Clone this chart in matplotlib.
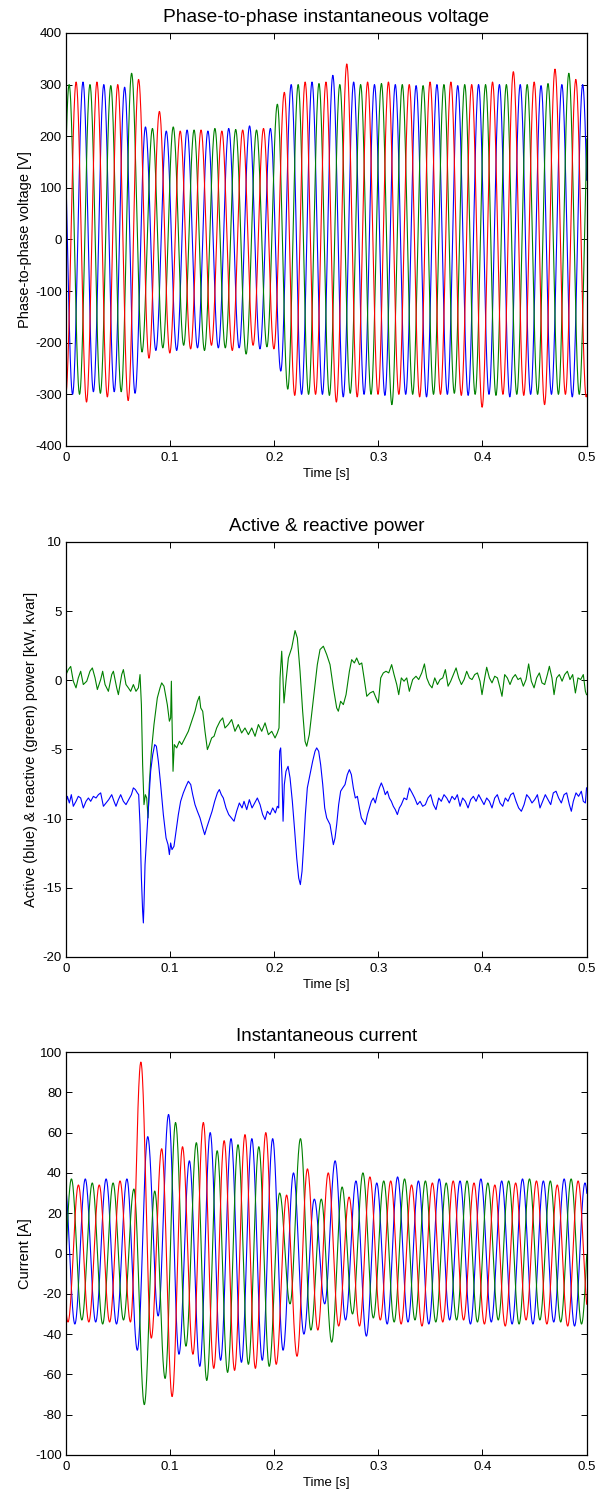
import numpy as np
import matplotlib
matplotlib.use("Agg")
import matplotlib.pyplot as plt

plt.rcParams['font.family'] = ['Liberation Sans', 'DejaVu Sans']
plt.rcParams['axes.unicode_minus'] = False

# ---------------- data ----------------
HALF_PERIOD = 0.01  # s, 50 Hz system

# Phase-to-phase voltage: successive half-cycle peak values [V]
V_GREEN_T0 = -0.007
V_GREEN_PEAKS = [-290, 300, -300, 300, -298, 298, -295, 322, -218, 215,
                 -210, 218, -205, 212, -215, 215, -210, 213, -222, 212,
                 -208, 262, -290, 300, -300, 302, -302, 300, -298, 300,
                 -300, 302, -320, 300, -300, 298, -300, 300, -298, 300,
                 -300, 300, -302, 300, -300, 300, -300, 302, -300, 322,
                 -300, 300]
V_RED_T0 = -0.0003
V_RED_PEAKS = [-300, 305, -315, 305, -305, 300, -312, 310, -230, 248,
               -220, 210, -212, 212, -205, 210, -215, 212, -205, 215,
               -212, 285, -302, 305, -300, 305, -315, 340, -305, 305,
               -300, 305, -300, 300, -305, 305, -300, 305, -302, 300,
               -325, 305, -300, 325, -302, 305, -320, 330, -300, 310,
               -305, 300]
V_BLUE_T0 = -0.0037
V_BLUE_PEAKS = [300, -300, 305, -295, 300, -295, 295, -298, 218, -215,
                210, -215, 212, -210, 210, -210, 215, -210, 220, -212,
                215, -255, 300, -300, 305, -300, 318, -305, 305, -300,
                300, -302, 300, -300, 298, -305, 300, -300, 298, -302,
                300, -300, 300, -305, 300, -300, 298, -300, 300, -305,
                300, -300]

# Instantaneous current: successive half-cycle peak values [A]
I_GREEN_T0 = -0.0048
I_GREEN_PEAKS = [-34, 37, -33, 35, -35, 35, -33, 32, -75, 31,
                 -62, 65, -46, 55, -63, 51, -59, 54, -55, 53,
                 -56, 30, -25, 57, -38, 27, -44, 33, -30, 40,
                 -32, 36, -34, 37, -33, 36, -34, 35, -33, 36,
                 -34, 35, -33, 36, -35, 37, -33, 36, -34, 37,
                 -35, 34]
I_RED_T0 = -0.0081
I_RED_PEAKS = [34, -34, 34, -34, 34, -34, 36, -34, 95, -42,
               52, -71, 53, -50, 65, -57, 56, -58, 59, -57,
               60, -55, 29, -51, 42, -38, 40, -36, 28, -36,
               38, -33, 36, -35, 34, -36, 35, -34, 36, -33,
               35, -35, 34, -36, 35, -33, 36, -35, 34, -36,
               36, -30]
I_BLUE_T0 = -0.0015
I_BLUE_PEAKS = [36, -35, 37, -34, 37, -35, 37, -48, 58, -31,
                69, -50, 46, -56, 60, -53, 57, -54, 57, -53,
                57, -48, 40, -40, 27, -25, 46, -33, 36, -41,
                35, -35, 38, -34, 36, -35, 37, -33, 36, -35,
                37, -34, 36, -35, 37, -35, 36, -34, 37, -36,
                35, -34]

# Reactive power (green) [kvar]: (time s, value)
Q_POINTS = [
    (0.0, 0.41), (0.0022, 0.77), (0.0045, 1.0), (0.007, -0.07), (0.0096, -0.55),
    (0.0118, 0.17), (0.0141, 0.65), (0.0166, -0.31), (0.0199, -0.07), (0.023, 0.65),
    (0.0253, 0.89), (0.0279, 0.17), (0.0301, -0.67), (0.0333, 0.05), (0.0352, 0.65),
    (0.0375, -0.31), (0.0407, -0.80), (0.0439, 0.41), (0.0455, 0.65), (0.0487, -0.55),
    (0.0503, -1.04), (0.0535, 0.41), (0.0551, 0.77), (0.0576, -0.31), (0.0599, -0.55),
    (0.0621, -0.80), (0.0647, -0.31), (0.0672, -0.80), (0.0695, -0.55), (0.0711, 0.41),
    (0.0724, -1.76), (0.0736, -6.10), (0.0749, -8.99), (0.0762, -8.27), (0.0775, -8.51),
    (0.0788, -9.95), (0.08, -7.54), (0.082, -5.13), (0.0845, -3.20), (0.0877, -1.28),
    (0.0903, -0.55), (0.0919, -0.19), (0.0941, -0.43), (0.0961, -1.28), (0.0973, -1.76),
    (0.0993, -2.96), (0.1005, -2.72), (0.1012, -0.07), (0.1018, -2.72), (0.1028, -6.58),
    (0.104, -4.65), (0.1063, -4.89), (0.1089, -4.41), (0.1111, -4.65), (0.1143, -4.17),
    (0.1175, -3.69), (0.1207, -2.96), (0.1239, -2.24), (0.1262, -1.52), (0.1281, -1.16),
    (0.1294, -2.0), (0.1313, -2.24), (0.1335, -3.69), (0.1358, -5.01), (0.1377, -4.65),
    (0.1399, -4.17), (0.1422, -4.05), (0.1447, -3.45), (0.1479, -2.96), (0.1505, -2.72),
    (0.1527, -3.45), (0.1559, -3.20), (0.1591, -2.84), (0.1623, -3.69), (0.1655, -3.20),
    (0.1687, -3.81), (0.1719, -3.45), (0.1752, -3.93), (0.1784, -3.45), (0.1816, -4.05),
    (0.1848, -3.20), (0.188, -3.69), (0.1912, -3.08), (0.1944, -3.93), (0.1976, -3.69),
    (0.2008, -4.17), (0.203, -3.81), (0.2046, -3.45), (0.2056, 0.17), (0.2072, 2.10),
    (0.2081, 0.65), (0.2094, -1.64), (0.2113, -0.07), (0.2136, 1.61), (0.2168, 2.34),
    (0.22, 3.59), (0.2222, 3.06), (0.2248, 0.65), (0.2273, -2.24), (0.2296, -4.41),
    (0.2312, -4.77), (0.2337, -3.93), (0.2363, -2.24), (0.2392, -0.31), (0.2414, 1.13),
    (0.244, 2.22), (0.2472, 2.46), (0.2504, 1.86), (0.2536, 1.13), (0.2568, -0.55),
    (0.26, -2.0), (0.2616, -2.24), (0.2638, -1.52), (0.2664, -1.76), (0.269, -1.04),
    (0.2722, 0.65), (0.2744, 1.49), (0.277, 1.25), (0.2792, 1.61), (0.2818, 1.13),
    (0.2841, 1.25), (0.2863, 0.17), (0.2889, -1.16), (0.292, -0.92), (0.2952, -0.80),
    (0.2978, -1.28), (0.3, -1.64), (0.3023, 0.17), (0.3048, 0.53), (0.3074, 0.65),
    (0.31, 0.53), (0.3128, 1.13), (0.3151, 0.41), (0.3177, -0.31), (0.3196, -1.04),
    (0.3221, 0.17), (0.3247, -0.07), (0.3273, 0.17), (0.3298, -0.80), (0.333, 0.05),
    (0.3362, 0.29), (0.3388, 0.05), (0.3417, 0.53), (0.3443, 1.18), (0.3465, 0.17),
    (0.3491, -0.31), (0.3516, -0.55), (0.3542, 0.17), (0.3568, -0.31), (0.3593, 0.05),
    (0.3619, 0.17), (0.3644, 0.77), (0.367, -0.43), (0.3695, -0.07), (0.3721, 0.41),
    (0.3747, 0.89), (0.3772, 0.17), (0.3798, -0.31), (0.3824, 0.05), (0.3849, 0.65),
    (0.3875, 0.17), (0.39, 0.05), (0.3926, 0.41), (0.3952, 0.53), (0.3977, -0.07),
    (0.3996, -1.04), (0.4022, 0.17), (0.4041, 0.94), (0.4067, 0.17), (0.4092, -0.19),
    (0.4118, 0.29), (0.4144, 0.17), (0.4169, -0.55), (0.4188, -1.16), (0.4214, 0.41),
    (0.4239, 0.17), (0.4265, -0.31), (0.429, 0.17), (0.4316, 0.41), (0.4342, 0.05),
    (0.4367, 0.17), (0.4393, -0.43), (0.4419, 0.05), (0.4444, 1.18), (0.447, -0.07),
    (0.4496, -0.55), (0.4521, 0.17), (0.4547, 0.53), (0.4572, -0.19), (0.4598, -0.31),
    (0.4624, 0.41), (0.4643, 1.01), (0.4668, 0.17), (0.4688, -1.04), (0.4713, 0.17),
    (0.4739, 0.41), (0.4765, -0.07), (0.479, 0.41), (0.4816, 0.65), (0.4841, 0.05),
    (0.4867, 0.41), (0.4893, -0.92), (0.4918, 0.17), (0.4944, 0.05), (0.4969, 0.41),
    (0.4989, -0.80), (0.5, -1.04),
]

# Active power (blue) [kW]: (time s, value)
P_POINTS = [
    (0.0, -8.87), (0.0013, -8.39), (0.0032, -8.87), (0.0051, -8.27), (0.007, -9.11),
    (0.0096, -8.75), (0.0118, -8.39), (0.0141, -8.51), (0.0166, -9.23), (0.0192, -8.75),
    (0.0215, -8.51), (0.0237, -8.75), (0.0263, -8.39), (0.0288, -8.51), (0.0311, -8.27),
    (0.0333, -8.14), (0.0359, -9.11), (0.0384, -8.87), (0.041, -8.63), (0.0439, -8.27),
    (0.0461, -8.75), (0.048, -9.11), (0.0503, -8.63), (0.0525, -8.27), (0.0551, -8.75),
    (0.0576, -8.99), (0.0602, -8.63), (0.0628, -8.27), (0.0647, -7.78), (0.0666, -7.90),
    (0.0685, -8.14), (0.0698, -8.27), (0.0711, -10.43), (0.0724, -14.29), (0.0736, -16.70),
    (0.0743, -17.54), (0.0749, -16.22), (0.0759, -13.33), (0.0772, -11.64), (0.0784, -10.19),
    (0.0797, -8.51), (0.0813, -6.58), (0.0833, -5.37), (0.0852, -4.65), (0.0868, -4.77),
    (0.0887, -5.86), (0.0909, -7.54), (0.0935, -9.71), (0.0961, -11.40), (0.098, -11.88),
    (0.0993, -12.6), (0.1005, -11.76), (0.1018, -12.24), (0.1037, -12.0), (0.1057, -10.92),
    (0.1079, -9.71), (0.1101, -8.75), (0.1127, -8.14), (0.1153, -7.66), (0.1175, -7.30),
    (0.1198, -7.54), (0.1217, -8.27), (0.1239, -8.99), (0.1262, -9.47), (0.1287, -9.95),
    (0.1313, -10.67), (0.1332, -11.16), (0.1351, -10.67), (0.1377, -10.07), (0.1403, -9.47),
    (0.1428, -8.75), (0.1454, -8.14), (0.1473, -7.90), (0.1492, -8.27), (0.1511, -8.51),
    (0.1537, -9.23), (0.1563, -9.71), (0.1588, -9.95), (0.1614, -10.19), (0.1639, -9.47),
    (0.1665, -8.87), (0.1691, -9.23), (0.171, -8.75), (0.1736, -9.35), (0.1761, -8.63),
    (0.1787, -9.23), (0.1812, -8.87), (0.1838, -8.51), (0.1864, -8.99), (0.1889, -9.71),
    (0.1912, -10.07), (0.1934, -9.47), (0.196, -9.71), (0.1985, -9.23), (0.2011, -9.59),
    (0.203, -9.11), (0.2043, -9.23), (0.2052, -5.13), (0.2062, -4.89), (0.2075, -7.06),
    (0.2085, -10.19), (0.2097, -7.54), (0.2113, -6.58), (0.2133, -6.22), (0.2152, -7.06),
    (0.2174, -8.75), (0.2197, -10.92), (0.2216, -12.84), (0.2235, -14.29), (0.2251, -14.77),
    (0.2267, -13.81), (0.2283, -11.88), (0.2299, -9.71), (0.2318, -7.78), (0.2344, -6.82),
    (0.2369, -5.86), (0.2392, -5.13), (0.2408, -4.89), (0.2427, -5.13), (0.2446, -6.10),
    (0.2466, -7.54), (0.2485, -9.23), (0.2504, -9.95), (0.2536, -10.43), (0.2568, -11.88),
    (0.2584, -11.40), (0.26, -10.43), (0.2619, -8.99), (0.2638, -8.02), (0.2658, -7.78),
    (0.268, -7.54), (0.2702, -6.82), (0.2722, -6.46), (0.2741, -6.82), (0.276, -7.78),
    (0.2779, -8.51), (0.2799, -8.39), (0.2818, -9.23), (0.2837, -9.95), (0.2856, -10.19),
    (0.2875, -10.43), (0.2895, -9.71), (0.2914, -9.23), (0.2933, -8.75), (0.2952, -8.51),
    (0.2971, -8.87), (0.299, -8.27), (0.301, -7.78), (0.3029, -7.42), (0.3048, -7.78),
    (0.3067, -8.27), (0.3087, -8.02), (0.3106, -8.51), (0.3125, -8.75), (0.3144, -9.11),
    (0.3163, -9.35), (0.3183, -9.71), (0.3202, -9.23), (0.3221, -8.99), (0.3247, -8.51),
    (0.3273, -8.63), (0.3298, -7.78), (0.3324, -8.14), (0.3349, -8.51), (0.3375, -8.99),
    (0.3401, -8.75), (0.3426, -9.11), (0.3452, -8.99), (0.3477, -8.51), (0.3503, -8.27),
    (0.3529, -8.99), (0.3554, -9.35), (0.358, -8.51), (0.3605, -8.75), (0.3631, -8.27),
    (0.3657, -8.51), (0.3682, -8.87), (0.3708, -8.39), (0.3734, -8.63), (0.3759, -8.27),
    (0.3785, -9.11), (0.381, -8.51), (0.3836, -8.75), (0.3862, -9.23), (0.3887, -8.63),
    (0.3913, -8.39), (0.3939, -8.75), (0.3964, -8.27), (0.399, -8.63), (0.4015, -8.99),
    (0.4041, -8.51), (0.4067, -8.75), (0.4092, -9.23), (0.4118, -8.51), (0.4143, -8.27),
    (0.4169, -8.87), (0.4195, -9.11), (0.422, -8.51), (0.4246, -8.75), (0.4272, -8.27),
    (0.4297, -8.14), (0.4323, -8.75), (0.4348, -9.23), (0.4374, -9.47), (0.44, -8.99),
    (0.4425, -8.27), (0.4451, -8.51), (0.4476, -8.87), (0.4502, -8.63), (0.4528, -8.27),
    (0.4553, -9.23), (0.4579, -8.75), (0.4604, -8.27), (0.463, -8.63), (0.4656, -8.99),
    (0.4681, -8.14), (0.4707, -8.02), (0.4732, -8.51), (0.4758, -8.87), (0.4784, -8.27),
    (0.4809, -8.14), (0.4835, -8.99), (0.4854, -9.47), (0.4873, -8.75), (0.4899, -8.14),
    (0.4924, -8.39), (0.495, -8.02), (0.4969, -8.75), (0.4989, -8.87), (0.5, -7.78),
]

X_TICKS = [0, 0.1, 0.2, 0.3, 0.4, 0.5]
X_TICK_LABELS = ['0', '0.1', '0.2', '0.3', '0.4', '0.5']
V_TICKS = [-400, -300, -200, -100, 0, 100, 200, 300, 400]
PQ_TICKS = [-20, -15, -10, -5, 0, 5, 10]
I_TICKS = [-100, -80, -60, -40, -20, 0, 20, 40, 60, 80, 100]

RED, GREEN, BLUE = (1, 0, 0), (0, 0.5, 0), (0, 0, 1)


def half_cycle_curve(t0, peaks, n=40):
    """Smooth curve passing through successive half-cycle peaks."""
    ts, vs = [], []
    th = np.linspace(0, np.pi, n, endpoint=False)
    for k in range(len(peaks) - 1):
        a, b = peaks[k], peaks[k + 1]
        ts.append(t0 + k * HALF_PERIOD + th / np.pi * HALF_PERIOD)
        vs.append(a * (1 + np.cos(th)) / 2 + b * (1 - np.cos(th)) / 2)
    return np.concatenate(ts), np.concatenate(vs)


def style(ax, yticks, ylim):
    ax.set_xlim(0, 0.5)
    ax.set_ylim(*ylim)
    ax.set_xticks(X_TICKS)
    ax.set_xticklabels(X_TICK_LABELS)
    ax.set_yticks(yticks)
    ax.tick_params(direction='in', top=True, right=True, length=4,
                   width=0.7, labelsize=9.5)
    ax.tick_params(axis='x', pad=4.5)
    ax.tick_params(axis='y', pad=3)
    for s in ax.spines.values():
        s.set_linewidth(0.9)
    ax.set_xlabel('Time [s]', fontsize=9.5, labelpad=2.5)


fig = plt.figure(figsize=(6.09, 14.92), dpi=100)
L, W = 0.1084, 0.8547
ax1 = fig.add_axes([L, 0.7011, W, 0.2768])
ax2 = fig.add_axes([L, 0.3586, W, 0.2782])
ax3 = fig.add_axes([L, 0.0248, W, 0.2701])

lw = 0.8
for t0, pk, c in [(V_BLUE_T0, V_BLUE_PEAKS, BLUE), (V_GREEN_T0, V_GREEN_PEAKS, GREEN),
                  (V_RED_T0, V_RED_PEAKS, RED)]:
    t, v = half_cycle_curve(t0, pk)
    ax1.plot(t, v, color=c, lw=lw)
style(ax1, V_TICKS, (-400, 400))
ax1.set_title('Phase-to-phase instantaneous voltage', fontsize=13.8, pad=8)
ax1.set_ylabel('Phase-to-phase voltage [V]', fontsize=10.5, labelpad=2)

qt, qv = np.array(Q_POINTS).T
pt, pv = np.array(P_POINTS).T
ax2.plot(qt, qv, color=GREEN, lw=lw)
ax2.plot(pt, pv, color=BLUE, lw=lw)
style(ax2, PQ_TICKS, (-20, 10))
ax2.set_title('Active & reactive power', fontsize=13.5, pad=8)
ax2.set_ylabel('Active (blue) & reactive (green) power [kW, kvar]', fontsize=10.5, labelpad=3)

for t0, pk, c in [(I_BLUE_T0, I_BLUE_PEAKS, BLUE), (I_GREEN_T0, I_GREEN_PEAKS, GREEN),
                  (I_RED_T0, I_RED_PEAKS, RED)]:
    t, v = half_cycle_curve(t0, pk)
    ax3.plot(t, v, color=c, lw=lw)
style(ax3, I_TICKS, (-100, 100))
ax3.set_title('Instantaneous current', fontsize=13.5, pad=8)
ax3.set_ylabel('Current [A]', fontsize=10.5, labelpad=2)

fig.savefig('out.png', dpi=100)
